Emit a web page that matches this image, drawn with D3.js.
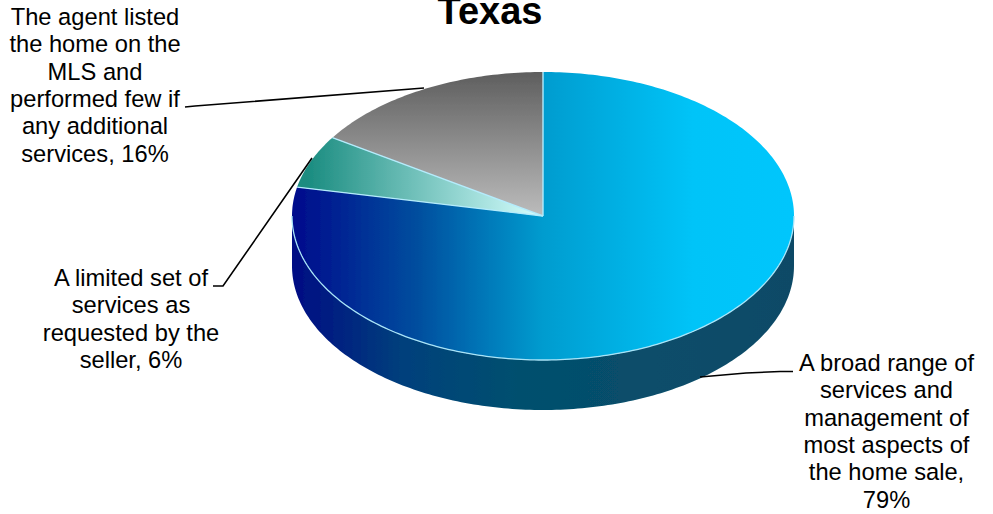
<!DOCTYPE html>
<html><head><meta charset="utf-8">
<script src="https://cdn.jsdelivr.net/npm/d3@7"></script>
<style>html,body{margin:0;background:#fff;overflow:hidden}svg{display:block}text{font-family:"Liberation Sans",Arial,sans-serif;fill:#000}</style>
</head><body><svg id="c" width="993" height="514"></svg>
<script>
const title = "Texas";
const categories = ["A broad range of services and management of most aspects of the home sale","A limited set of services as requested by the seller","The agent listed the home on the MLS and performed few if any additional services"];
const values = [79, 6, 16];
const labelLines = [
 ["A broad range of","services and","management of","most aspects of","the home sale,","79%"],
 ["A limited set of","services as","requested by the","seller, 6%"],
 ["The agent listed","the home on the","MLS and","performed few if","any additional","services, 16%"]];
const topStops = [
 [["0","#000a8c"],["0.25","#004e9e"],["0.5","#009ccf"],["0.8","#00c4f8"],["1","#00c6fc"]],
 [["0","#1a8c80"],["1","#d8ffff"]],
 [["0","#5e5e5e"],["1","#bcbcbc"]]];
const sideStops = [["0","#000c84"],["0.22","#00407c"],["0.45","#04506e"],["1","#0c4a66"]];
const cx=543, cy=216, rx=251, ry=144, depth=50;
const svg=d3.select("#c"), defs=svg.append("defs");
function grad(id,stops,x1,y1,x2,y2){
  const g=defs.append("linearGradient").attr("id",id).attr("gradientUnits","userSpaceOnUse")
    .attr("x1",x1).attr("y1",y1).attr("x2",x2).attr("y2",y2);
  stops.forEach(s=>g.append("stop").attr("offset",s[0]).attr("stop-color",s[1]));
}
grad("g0",topStops[0],cx-rx,0,cx+rx,0);
grad("g1",topStops[1],cx-rx+15,0,cx,0);
grad("g2",topStops[2],0,cy-ry,0,cy);
grad("gs",sideStops,cx-rx,0,cx+rx,0);
const blur=defs.append("filter").attr("id","soft").attr("x","-5%").attr("y","-5%").attr("width","110%").attr("height","110%");
blur.append("feGaussianBlur").attr("stdDeviation",0.5);
const xs=d3.scaleLinear().domain([-1,1]).range([cx-rx,cx+rx]);
const ys=d3.scaleLinear().domain([-1,1]).range([cy-ry,cy+ry]);
const arcs=d3.pie().sort(null)(values);
const rimAngles=d3.range(90,270.5,1).map(a=>a*Math.PI/180);
const lower=d3.line().x(a=>xs(Math.sin(a))).y(a=>ys(-Math.cos(a))+depth);
const upper=d3.line().x(a=>xs(Math.sin(a))).y(a=>ys(-Math.cos(a)));
const rim=lower(rimAngles)+"L"+upper(rimAngles.slice().reverse()).slice(1)+"Z";
const g=svg.append("g").attr("filter","url(#soft)");
g.append("path").attr("d",rim).attr("fill","url(#gs)");
function slicePath(d){
  const n=Math.max(2,Math.ceil((d.endAngle-d.startAngle)*60));
  const pts=d3.range(n+1).map(i=>d.startAngle+(d.endAngle-d.startAngle)*i/n);
  return "M"+xs(0)+","+ys(0)+"L"+upper(pts).slice(1)+"Z";
}
g.selectAll("path.slice").data(arcs).join("path").attr("class","slice")
  .attr("d",slicePath).attr("fill",(d,i)=>`url(#g${i})`);
// light separators: spokes and the front rim only
g.selectAll("path.spoke").data(arcs).join("path").attr("class","spoke")
  .attr("d",d=>"M"+xs(0)+","+ys(0)+"L"+xs(Math.sin(d.startAngle))+","+ys(-Math.cos(d.startAngle)))
  .attr("fill","none").attr("stroke","#b4ecfc").attr("stroke-width",1.4);
g.append("path").attr("d",upper(rimAngles)).attr("fill","none").attr("stroke","#a8e4f8").attr("stroke-width",1.3);
const leaders=[[[700,377],[746,373],[780,371.5],[793,371.5]],[[312,158],[223,286],[213,286]],[[424,88],[195,106],[185,107]]];
const ln=d3.line();
svg.selectAll("path.lead").data(leaders).join("path").attr("class","lead").attr("d",ln)
  .attr("fill","none").attr("stroke","#000").attr("stroke-width",1.6);
const labelPos=[[886.5,371],[131,286],[95,25]];
const lh=27.3;
labelLines.forEach((ls,i)=>{
  const t=svg.append("text").attr("text-anchor","middle").attr("font-size",23.7);
  ls.forEach((s,j)=>t.append("tspan").attr("x",labelPos[i][0]).attr("y",labelPos[i][1]+j*lh).text(s));
});
svg.append("text").attr("x",490).attr("y",24).attr("text-anchor","middle").attr("font-size",38).attr("font-weight","bold").text(title);
</script></body></html>
